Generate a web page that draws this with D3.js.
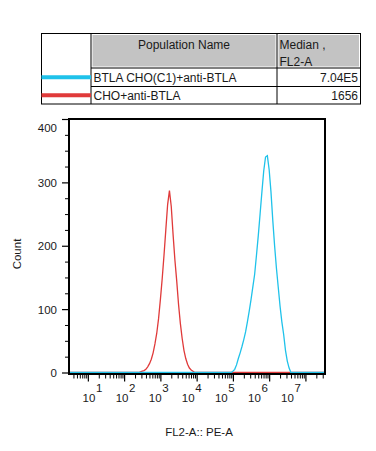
<!DOCTYPE html>
<html>
<head>
<meta charset="utf-8">
<script src="https://cdn.jsdelivr.net/npm/d3@7"></script>
<style>
body { margin: 0; background: #fff; }
svg text { font-family: "Liberation Sans", Arial, sans-serif; fill: #1a1a1a; }
</style>
</head>
<body>
<div id="chart"></div>
<script>
// population table
const populations = ["BTLA CHO(C1)+anti-BTLA", "CHO+anti-BTLA"];
const medians = ["7.04E5", "1656"];
const popColors = ["#1fc2ea", "#e03a3a"];

// histogram points (x is log10 of FL2-A)
const blueLog = [0.48, 4.95, 5.00, 5.05, 5.10, 5.15, 5.20, 5.25, 5.30, 5.35, 5.40, 5.45, 5.50,
    5.55, 5.60, 5.65, 5.70, 5.75, 5.80, 5.85, 5.90, 5.95, 6.00, 6.05, 6.10, 6.15, 6.20,
    6.25, 6.30, 6.35, 6.40, 6.45, 6.50, 6.55, 6.60, 7.54];
const blueCount = [0, 0, 2, 5, 12, 22, 31, 41, 52, 64, 80, 97, 115,
    135, 155, 185, 216, 250, 285, 318, 340, 342, 320, 285, 240, 200, 165,
    135, 105, 80, 60, 35, 18, 7, 0, 0];

const redLog = [0.48, 2.40, 2.45, 2.50, 2.55, 2.60, 2.65, 2.70, 2.75, 2.80, 2.85, 2.90, 2.95,
    3.00, 3.05, 3.10, 3.15, 3.20, 3.25, 3.30, 3.35, 3.40, 3.45, 3.50, 3.55, 3.60,
    3.65, 3.70, 3.75, 3.80, 3.85, 3.90, 3.95, 7.54];
const redCount = [0, 0, 1, 2, 3, 5, 9, 14, 21, 31, 45, 62, 85,
    115, 148, 185, 225, 265, 287, 262, 218, 178, 145, 108, 78, 54,
    35, 22, 13, 7, 4, 2, 0, 0];

const yTicks = [0, 100, 200, 300, 400];
const xDecades = [1, 2, 3, 4, 5, 6, 7];

const width = 376, height = 451;
const plot = { left: 69, right: 325, top: 119, bottom: 373.5 };

const svg = d3.select("#chart")
    .append("svg")
    .attr("width", width)
    .attr("height", height);

// ---- table ----
const tx = [41.5, 91, 277, 360.5];
const ty = [33.5, 68, 86.5, 104];
const table = svg.append("g");

table.selectAll("rect.head")
    .data([[tx[1], tx[2]], [tx[2], tx[3]]])
    .enter()
    .append("rect")
    .attr("x", d => d[0] + 1.5)
    .attr("y", ty[0] + 1.5)
    .attr("width", d => d[1] - d[0] - 3)
    .attr("height", ty[1] - ty[0] - 3)
    .attr("fill", "#c3c3c3");

table.append("rect")
    .attr("x", tx[0]).attr("y", ty[0])
    .attr("width", tx[3] - tx[0]).attr("height", ty[3] - ty[0])
    .attr("fill", "none").attr("stroke", "#000");

[tx[1], tx[2]].forEach(x => {
    table.append("line")
        .attr("x1", x).attr("x2", x).attr("y1", ty[0]).attr("y2", ty[3])
        .attr("stroke", "#000");
});
[ty[1], ty[2]].forEach(y => {
    table.append("line")
        .attr("x1", tx[1]).attr("x2", tx[3]).attr("y1", y).attr("y2", y)
        .attr("stroke", "#000");
});

table.append("text")
    .attr("x", (tx[1] + tx[2]) / 2).attr("y", 48.5)
    .attr("text-anchor", "middle").attr("font-size", 12)
    .text("Population Name");
table.append("text").attr("x", tx[2] + 2.5).attr("y", 48.5).attr("font-size", 12).text("Median ,");
table.append("text").attr("x", tx[2] + 2.5).attr("y", 66).attr("font-size", 12).text("FL2-A");

const rowY = [ (ty[1] + ty[2]) / 2, (ty[2] + ty[3]) / 2 ];
populations.forEach((name, i) => {
    table.append("line")
        .attr("x1", tx[0]).attr("x2", tx[1])
        .attr("y1", rowY[i]).attr("y2", rowY[i])
        .attr("stroke", popColors[i]).attr("stroke-width", 4);
    table.append("text")
        .attr("x", tx[1] + 2.5).attr("y", rowY[i] + 4.3)
        .attr("font-size", 12).text(name);
    table.append("text")
        .attr("x", tx[3] - 2.5).attr("y", rowY[i] + 4.3)
        .attr("text-anchor", "end").attr("font-size", 12).text(medians[i]);
});

// ---- histogram ----
const x = d3.scaleLog()
    .domain([10 ** 0.48, 10 ** 7.54])
    .range([plot.left, plot.right]);

const y = d3.scaleLinear()
    .domain([0, 400])
    .range([plot.bottom - 1, plot.top]);

// decade labels sit a little left of their ticks in the original
const labelX = d3.scaleLinear().domain([1, 7]).range([89, 287.5]);

const line = d3.line()
    .x(d => x(10 ** d[0]))
    .y(d => y(d[1]));

svg.append("path")
    .datum(d3.zip(redLog, redCount))
    .attr("d", line)
    .attr("fill", "none")
    .attr("stroke", popColors[1])
    .attr("stroke-width", 1.3);

svg.append("path")
    .datum(d3.zip(blueLog, blueCount))
    .attr("d", line)
    .attr("fill", "none")
    .attr("stroke", popColors[0])
    .attr("stroke-width", 1.3);

// frame
svg.append("rect")
    .attr("x", plot.left).attr("y", plot.top)
    .attr("width", plot.right - plot.left)
    .attr("height", plot.bottom + 0.5 - plot.top)
    .attr("fill", "none").attr("stroke", "#000").attr("stroke-width", 2);

// y axis
const yAxis = svg.append("g")
    .attr("transform", `translate(${plot.left - 1},0)`)
    .call(d3.axisLeft(y).tickValues(yTicks).tickSize(6).tickPadding(5));
yAxis.select(".domain").remove();
yAxis.selectAll("text").attr("font-size", 11.5).attr("font-family", null)
    .attr("dy", d => d === 400 ? "1.05em" : "0.35em");
yAxis.selectAll("line").attr("stroke-width", 1.2);

const yMinor = svg.append("g")
    .attr("transform", `translate(${plot.left - 1},0)`)
    .call(d3.axisLeft(y).tickValues(d3.range(25, 400, 25).filter(v => v % 100)).tickSize(3).tickFormat(""));
yMinor.select(".domain").remove();

// x axis
const minorVals = [];
for (let n = 0; n <= 7; n++) {
    for (let k = 2; k <= 9; k++) {
        const v = k * 10 ** n;
        if (v >= x.domain()[0] && v <= x.domain()[1]) minorVals.push(v);
    }
}

const xMajor = svg.append("g")
    .attr("transform", `translate(0,${plot.bottom + 1})`)
    .call(d3.axisBottom(x).tickValues(xDecades.map(d => 10 ** d)).tickSize(7).tickFormat(""));
xMajor.select(".domain").remove();
xMajor.selectAll("line").attr("stroke-width", 1.2);

const xMinor = svg.append("g")
    .attr("transform", `translate(0,${plot.bottom + 1})`)
    .call(d3.axisBottom(x).tickValues(minorVals).tickSize(4).tickFormat(""));
xMinor.select(".domain").remove();

const xLabels = svg.append("g");
xDecades.forEach(d => {
    xLabels.append("text")
        .attr("x", labelX(d)).attr("y", 402)
        .attr("text-anchor", "middle").attr("font-size", 11.5)
        .text("10");
    xLabels.append("text")
        .attr("x", labelX(d) + 7).attr("y", 392)
        .attr("font-size", 11.5)
        .text(d);
});

// axis titles
svg.append("text")
    .attr("transform", "translate(21,254) rotate(-90)")
    .attr("text-anchor", "middle").attr("font-size", 11.5)
    .text("Count");

svg.append("text")
    .attr("x", 199).attr("y", 436)
    .attr("text-anchor", "middle").attr("font-size", 11.5)
    .text("FL2-A:: PE-A");
</script>
</body>
</html>
